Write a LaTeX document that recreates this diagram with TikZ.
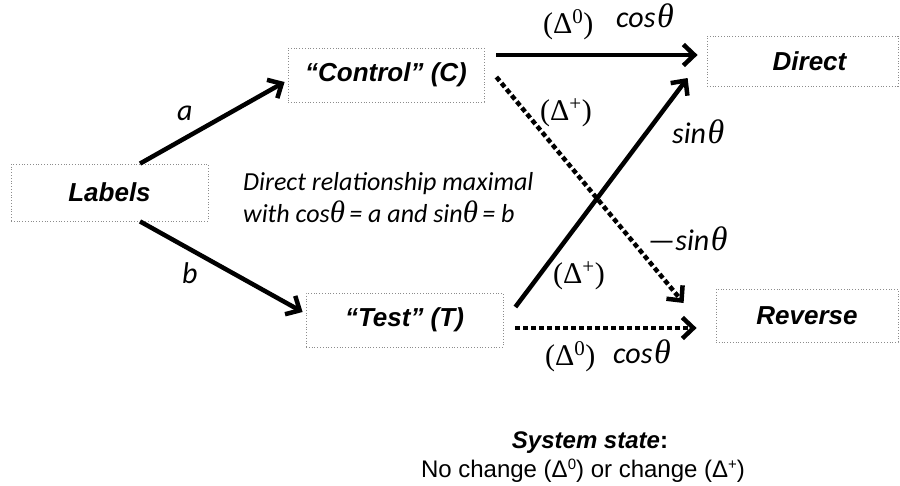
\documentclass[tikz,border=0pt]{standalone}
\usepackage{fontspec}
\setmainfont{Liberation Sans}
\newfontfamily\calfont{Carlito}
\newfontfamily\tmsfont{Liberation Serif}
\usetikzlibrary{arrows.meta}
\newcommand{\thet}{{\tmsfont\itshape\fontsize{31}{31}\selectfont θ}}
\newcommand{\bthet}{\kern1.5pt{\tmsfont\itshape\fontsize{34}{34}\selectfont θ}}
\newcommand{\smsup}[1]{\raisebox{0.33em}{\fontsize{15}{15}\selectfont #1}}
\begin{document}
\begin{tikzpicture}[x=1pt,y=-1pt,
  box/.style={draw=gray!90, dotted, line width=0.8pt, inner sep=0pt,
    font=\fontsize{26}{28}\selectfont\bfseries\itshape},
  arr/.style={line width=4.5pt, -{Straight Barb[length=11pt,width=21pt]}},
  dotarr/.style={arr, dash pattern=on 5pt off 3pt},
  lab/.style={font=\calfont\itshape\fontsize{30}{32}\selectfont, inner sep=0pt, anchor=base west},
  dl/.style={font=\tmsfont\fontsize{30}{32}\selectfont, inner sep=0pt, anchor=base west},
  mid/.style={font=\calfont\itshape\fontsize{26}{30}\selectfont, inner sep=0pt, anchor=base west},
  sys/.style={font=\fontsize{24}{26}\selectfont, inner sep=0pt, anchor=base}]
\useasboundingbox (0,0) rectangle (900,485);
% boxes
\node[box, minimum width=197pt, minimum height=57pt] (L) at (109.5,192.5) {Labels};
\node[box, minimum width=196pt, minimum height=54pt] (C) at (386,75) {“Control” (C)};
\node[box, minimum width=197pt, minimum height=54pt] (T) at (404.5,320) {“Test” (T)};
\node[box, minimum width=191pt, minimum height=50pt, text width=191pt, align=center] (D) at (802.5,61) {\hspace*{14pt}Direct};
\node[box, minimum width=182pt, minimum height=53pt] (R) at (807,315.5) {Reverse};
% arrows
\draw[arr] ([xshift=30.5pt]L.north) -- ([xshift=-3pt,yshift=-7pt]C.west);
\draw[arr] ([xshift=30.5pt]L.south) -- ([xshift=-3pt,yshift=8pt]T.west);
\draw[arr] ([xshift=12pt,yshift=20pt]C.east) -- ([xshift=-9pt,yshift=6pt]D.west);
\draw[dotarr] ([xshift=12pt,yshift=-2pt]C.east) -- ([xshift=-32pt,yshift=12.5pt]R.west);
\draw[arr] ([xshift=12pt,yshift=13pt]T.east) -- ([xshift=-19pt,yshift=-17pt]D.west);
\draw[dotarr] ([xshift=12pt,yshift=-8pt]T.east) -- ([xshift=-19pt,yshift=-12.5pt]R.west);
% labels
\node[lab] (la) at (177,120) {a};
\node[lab] (lb) at (182,283) {b};
\node[dl] (d0t) at (543,33) {(Δ\textsuperscript{0})};
\node[lab] (cost) at (616,27) {cos\bthet};
\node[dl] (dpt) at (540,120) {(Δ\textsuperscript{+})};
\node[lab] (sint) at (672,143) {sin\bthet};
\node[lab] (msint) at (648,250) {—sin\bthet};
\node[dl] (dpb) at (553,283) {(Δ\textsuperscript{+})};
\node[dl] (d0b) at (545,365) {(Δ\textsuperscript{0})};
\node[lab] (cosb) at (613,363) {cos\bthet};
\node[mid] (mid1) at (243,190) {Direct relationship maximal};
\node[mid] (mid2) at (243,222) {with cos\thet\,= a and sin\thet\,= b};
\node[sys] (sys1) at (590,448) {\textbf{\textit{System state}}\textbf{:}};
\node[sys] (sys2) at (583,477) {No change (Δ\smsup{0}) or change (Δ\smsup{+})};
\end{tikzpicture}
\end{document}
